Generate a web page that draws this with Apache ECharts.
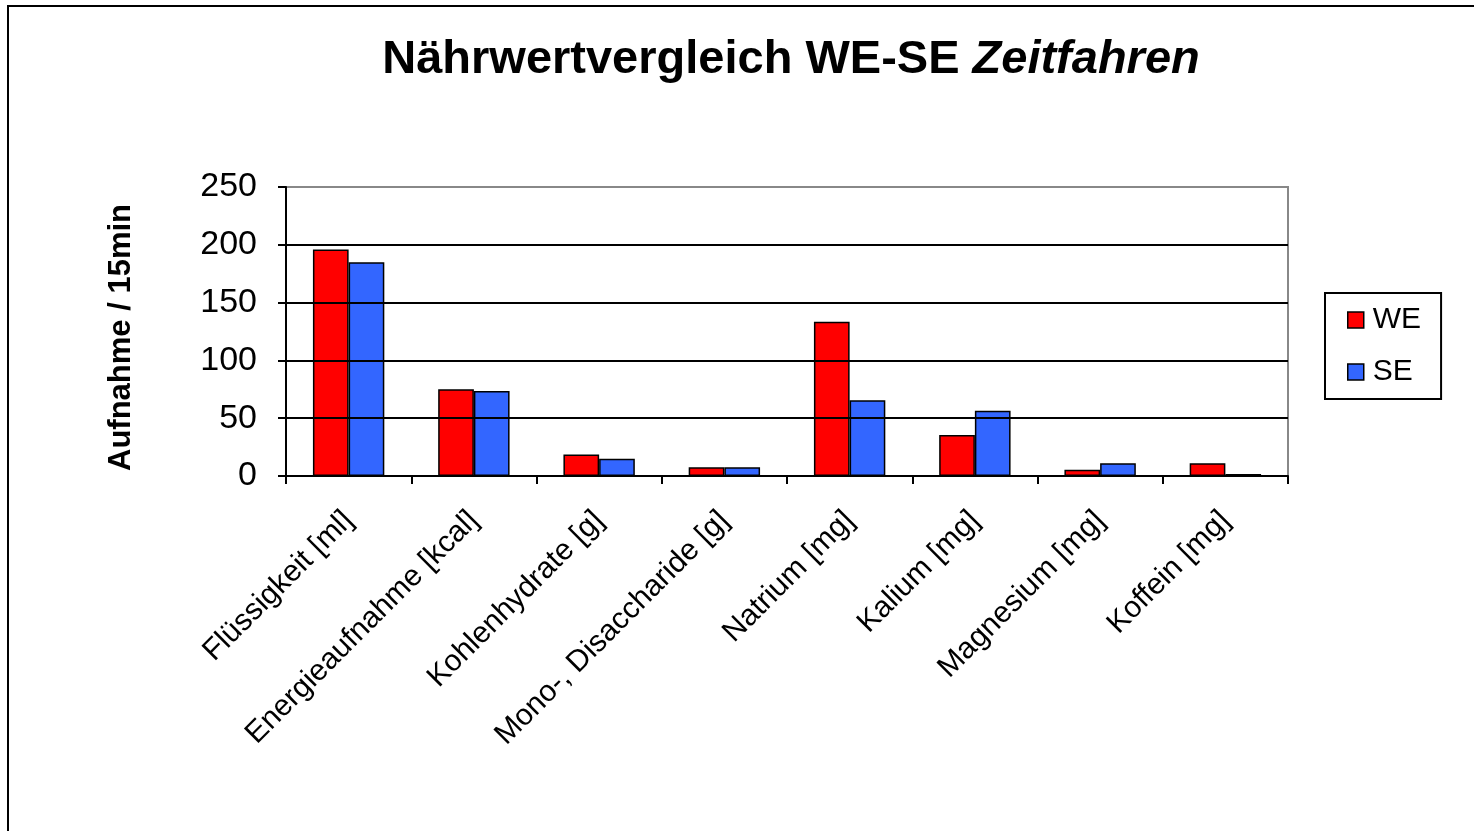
<!DOCTYPE html>
<html>
<head>
<meta charset="utf-8">
<script src="https://cdn.jsdelivr.net/npm/echarts@6/dist/echarts.min.js"></script>
<style>
html,body{margin:0;padding:0;background:#fff;}
#chart{width:1474px;height:831px;}
</style>
</head>
<body>
<div id="chart"></div>
<script>
const categories = ['Flüssigkeit [ml]', 'Energieaufnahme [kcal]', 'Kohlenhydrate [g]', 'Mono-, Disaccharide [g]', 'Natrium [mg]', 'Kalium [mg]', 'Magnesium [mg]', 'Koffein [mg]'];
const seriesNames = ['WE', 'SE'];
const weValues = [196, 75, 18.5, 7.5, 133.5, 35.5, 5.5, 11];
const seValues = [185, 73.5, 15, 7.5, 65.5, 56.5, 11, 1.7];
const yTicks = { min: 0, max: 250, interval: 50 };
const titleMain = 'Nährwertvergleich WE-SE ';
const titleItalic = 'Zeitfahren';
const yAxisName = 'Aufnahme / 15min';

const FONT = '"Liberation Sans", Arial, sans-serif';
const chart = echarts.init(document.getElementById('chart'), null, {renderer: 'canvas'});
chart.setOption({
  backgroundColor: '#fff',
  animation: false,
  graphic: [{
    type: 'rect',
    shape: {x: 8, y: 6, width: 1480, height: 840},
    style: {fill: 'none', stroke: '#000', lineWidth: 2},
    z: 100, silent: true
  }],
  title: {
    text: '{a|' + titleMain + '}{b|' + titleItalic + '}',
    left: 786, top: 32, textAlign: 'center',
    textStyle: {
      rich: {
        a: {fontFamily: FONT, fontWeight: 'bold', fontSize: 47, color: '#000'},
        b: {fontFamily: FONT, fontWeight: 'bold', fontStyle: 'italic', fontSize: 47, color: '#000'}
      }
    }
  },
  legend: {
    data: seriesNames,
    orient: 'vertical',
    left: 1325, top: 293,
    padding: [12, 20, 12, 22],
    itemGap: 22,
    itemWidth: 16, itemHeight: 16,
    icon: 'rect',
    borderColor: '#000', borderWidth: 2,
    textStyle: {fontFamily: FONT, fontSize: 30, color: '#000', padding: [0, 0, 0, 4]},
    itemStyle: {borderColor: '#000', borderWidth: 1.5}
  },
  grid: {
    left: 286, right: 186, top: 187, bottom: 355,
    show: true, borderColor: '#888', borderWidth: 2, backgroundColor: 'transparent'
  },
  xAxis: {
    type: 'category',
    data: categories,
    axisLine: {lineStyle: {color: '#000', width: 2}},
    axisTick: {show: true, length: 8, lineStyle: {color: '#000', width: 2}},
    axisLabel: {rotate: 45, interval: 0, margin: 40, fontFamily: FONT, fontSize: 30, color: '#000'},
    z: 10
  },
  yAxis: {
    type: 'value',
    min: yTicks.min, max: yTicks.max, interval: yTicks.interval,
    name: yAxisName,
    nameLocation: 'middle',
    nameGap: 149,
    nameRotate: 90,
    nameTextStyle: {fontFamily: FONT, fontWeight: 'bold', fontSize: 31, color: '#000', padding: [0, 12, 0, 0]},
    axisLine: {show: true, lineStyle: {color: '#000', width: 2}},
    axisTick: {show: true, inside: false, length: 8, lineStyle: {color: '#000', width: 2}},
    axisLabel: {margin: 29, fontFamily: FONT, fontSize: 34, color: '#000'},
    splitLine: {show: true, showMaxLine: false, lineStyle: {color: '#000', width: 2}},
    z: 10
  },
  series: [{
    name: seriesNames[0], type: 'bar', data: weValues,
    barGap: '0%', barCategoryGap: '43%',
    itemStyle: {color: '#FF0000', borderColor: '#000', borderWidth: 1.5}
  }, {
    name: seriesNames[1], type: 'bar', data: seValues,
    barGap: '0%', barCategoryGap: '43%',
    itemStyle: {color: '#3366FF', borderColor: '#000', borderWidth: 1.5}
  }]
});
</script>
</body>
</html>
